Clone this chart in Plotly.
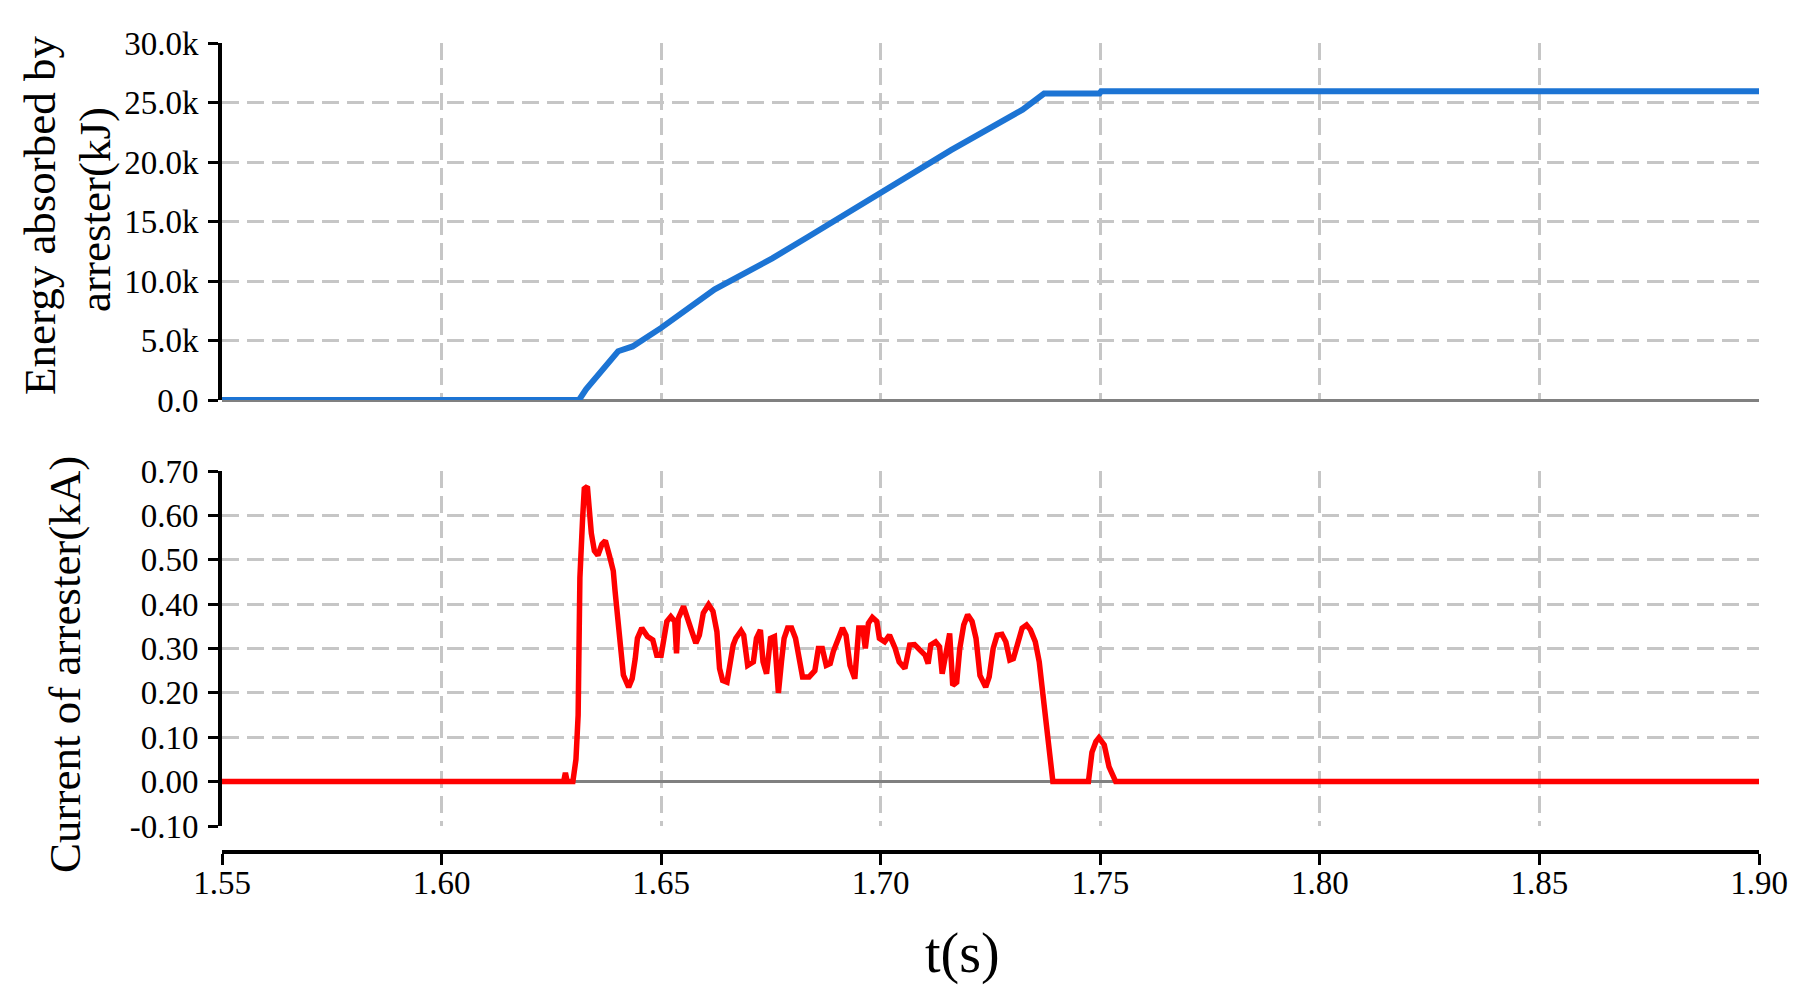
import plotly.graph_objects as go

# ---------------- data ----------------
t_energy = [1.55, 1.6313, 1.6329, 1.6353, 1.6402, 1.6435, 1.6500, 1.6622, 1.6753,
            1.6834, 1.7000, 1.7160, 1.7323, 1.7372, 1.7498, 1.7502, 1.90]
energy_kj = [0, 0, 900, 2000, 4100, 4500, 6060, 9300, 11900,
             13700, 17400, 21000, 24400, 25750, 25750, 25950, 25950]

t_current = [1.55, 1.6278, 1.6282, 1.6286, 1.6299, 1.6306, 1.6311, 1.6315, 1.6321, 1.6325,
             1.6332, 1.6337, 1.6341, 1.6348, 1.6356, 1.6365, 1.6373, 1.6382, 1.6391, 1.6395,
             1.6402, 1.6408, 1.6414, 1.6426, 1.6434, 1.6441, 1.6446, 1.6456, 1.6469, 1.6481,
             1.6490, 1.6500, 1.6507, 1.6513, 1.6522, 1.6531, 1.6535, 1.6539, 1.6551, 1.6561,
             1.6570, 1.6579, 1.6587, 1.6596, 1.6608, 1.6618, 1.6627, 1.6633, 1.6640, 1.6650,
             1.6657, 1.6664, 1.6670, 1.6682, 1.6688, 1.6697, 1.6710, 1.6717, 1.6726, 1.6732,
             1.6740, 1.6749, 1.6758, 1.6767, 1.6774, 1.6780, 1.6788, 1.6797, 1.6806, 1.6815,
             1.6822, 1.6837, 1.6850, 1.6858, 1.6867, 1.6876, 1.6885, 1.6892, 1.6902, 1.6913,
             1.6921, 1.6930, 1.6941, 1.6950, 1.6959, 1.6965, 1.6972, 1.6981, 1.6991, 1.6997,
             1.7009, 1.7020, 1.7033, 1.7042, 1.7055, 1.7066, 1.7077, 1.7090, 1.7101, 1.7108,
             1.7114, 1.7125, 1.7134, 1.7140, 1.7149, 1.7157, 1.7164, 1.7173, 1.7180, 1.7189,
             1.7198, 1.7208, 1.7217, 1.7226, 1.7239, 1.7247, 1.7256, 1.7265, 1.7276, 1.7285,
             1.7294, 1.7302, 1.7311, 1.7322, 1.7332, 1.7341, 1.7352, 1.7361, 1.7367, 1.7374,
             1.7381, 1.7387, 1.7392, 1.7473, 1.7481, 1.7490, 1.7497, 1.7509, 1.7520, 1.7535,
             1.90]
current_ka = [0, 0, 0.02, 0, 0, 0.05, 0.15, 0.46, 0.59, 0.66,
              0.665, 0.60, 0.56, 0.52, 0.51, 0.535, 0.543, 0.51, 0.475, 0.43,
              0.353, 0.285, 0.24, 0.213, 0.232, 0.277, 0.323, 0.346, 0.327, 0.319,
              0.285, 0.285, 0.33, 0.361, 0.372, 0.361, 0.289, 0.368, 0.395, 0.361,
              0.338, 0.312, 0.33, 0.38, 0.399, 0.384, 0.338, 0.255, 0.228, 0.224,
              0.277, 0.308, 0.323, 0.34, 0.33, 0.262, 0.27, 0.323, 0.342, 0.27,
              0.243, 0.323, 0.327, 0.20, 0.27, 0.323, 0.346, 0.346, 0.323, 0.27,
              0.236, 0.236, 0.25, 0.30, 0.30, 0.262, 0.266, 0.293, 0.315, 0.346,
              0.33, 0.262, 0.232, 0.346, 0.346, 0.30, 0.357, 0.37, 0.361, 0.323,
              0.315, 0.33, 0.30, 0.27, 0.255, 0.308, 0.309, 0.296, 0.285, 0.266,
              0.308, 0.315, 0.304, 0.243, 0.30, 0.334, 0.217, 0.224, 0.30, 0.353,
              0.376, 0.361, 0.323, 0.239, 0.213, 0.236, 0.30, 0.33, 0.332, 0.315,
              0.274, 0.277, 0.308, 0.346, 0.353, 0.342, 0.315, 0.27, 0.217, 0.152,
              0.091, 0.042, 0.0, 0.0, 0.066, 0.09, 0.099, 0.083, 0.033, 0.0,
              0.0]

x_ticks = [1.55, 1.60, 1.65, 1.70, 1.75, 1.80, 1.85, 1.90]
energy_ticks = [0, 5000, 10000, 15000, 20000, 25000, 30000]
energy_tick_labels = ["0.0", "5.0k", "10.0k", "15.0k", "20.0k", "25.0k", "30.0k"]
current_ticks = [-0.10, 0.00, 0.10, 0.20, 0.30, 0.40, 0.50, 0.60, 0.70]
current_tick_labels = ["-0.10", "0.00", "0.10", "0.20", "0.30", "0.40", "0.50", "0.60", "0.70"]

energy_title_lines = ["Energy absorbed by", "arrester(kJ)"]
current_title = "Current of arrester(kA)"
x_title = "t(s)"

# ---------------- layout geometry (page pixels; page body has an 8px margin) ----------------
OFF = 8
W, H = 1805 - OFF, 1003 - OFF
L, T = 222 - OFF, 43 - OFF
R = W - (1759 - OFF)
B = H - (852 - OFF)
PW, PH = W - L - R, H - T - B


def px_x(p):
    return (p - OFF - L) / PW


def px_y(p):
    return (H - B - (p - OFF)) / PH


FONT = "Liberation Serif, Times New Roman, serif"
GRID = "#c6c6c6"
GRIDDASH = "17px,8px"
BLUE = "#1c74d4"
RED = "#ff0000"
TICKSIZE = 33

fig = go.Figure()
fig.add_trace(go.Scatter(x=t_energy, y=energy_kj, mode="lines",
                         line=dict(color=BLUE, width=6),
                         xaxis="x", yaxis="y", hoverinfo="skip"))
fig.add_trace(go.Scatter(x=t_current, y=current_ka, mode="lines",
                         line=dict(color=RED, width=5.5),
                         xaxis="x2", yaxis="y2", hoverinfo="skip"))

common_x = dict(range=[1.55, 1.90], tickvals=x_ticks, showgrid=True,
                gridcolor=GRID, griddash=GRIDDASH, gridwidth=2.5, zeroline=False)

fig.update_layout(
    width=W, height=H,
    margin=dict(l=L, r=R, t=T, b=B),
    paper_bgcolor="white", plot_bgcolor="white",
    showlegend=False,
    font=dict(family=FONT, color="black", size=TICKSIZE),
    xaxis=dict(domain=[0, 1], anchor="y", showticklabels=False, ticks="",
               showline=False, **common_x),
    yaxis=dict(domain=[px_y(400), 1.0], anchor="x", range=[0, 30000],
               tickvals=energy_ticks, ticktext=energy_tick_labels,
               showline=True, linecolor="black", linewidth=4,
               ticks="outside", ticklen=10, tickwidth=3, tickcolor="black",
               showgrid=True, gridcolor=GRID, griddash=GRIDDASH, gridwidth=2.5,
               zeroline=True, zerolinecolor="#808080", zerolinewidth=3,
               tickfont=dict(size=TICKSIZE), ticklabelstandoff=3),
    xaxis2=dict(domain=[0, 1], anchor="free", position=0,
                showline=True, linecolor="black", linewidth=4,
                ticks="outside", ticklen=11, tickwidth=3, tickcolor="black",
                tickformat=".2f", tickfont=dict(size=TICKSIZE),
                ticklabelstandoff=-11, **common_x),
    yaxis2=dict(domain=[px_y(826), px_y(471)], anchor="x2", range=[-0.10, 0.70],
                tickvals=current_ticks, ticktext=current_tick_labels,
                showline=True, linecolor="black", linewidth=4,
                ticks="outside", ticklen=10, tickwidth=3, tickcolor="black",
                showgrid=True, gridcolor=GRID, griddash=GRIDDASH, gridwidth=2.5,
                zeroline=True, zerolinecolor="#808080", zerolinewidth=3,
                tickfont=dict(size=TICKSIZE), ticklabelstandoff=3),
)

ann = []
ann.append(dict(text=energy_title_lines[0], x=px_x(40), y=px_y(215)))
ann.append(dict(text=energy_title_lines[1], x=px_x(95), y=px_y(210)))
ann.append(dict(text=current_title, x=px_x(65), y=px_y(665)))
for a in ann:
    a.update(xref="paper", yref="paper", textangle=-90, showarrow=False,
             xanchor="center", yanchor="middle", font=dict(size=45, family=FONT))
ann.append(dict(text=x_title, x=px_x(962), y=px_y(953), xref="paper", yref="paper",
                showarrow=False, xanchor="center", yanchor="middle",
                font=dict(size=56, family=FONT)))
fig.update_layout(annotations=ann)

fig.write_html("out.html")
